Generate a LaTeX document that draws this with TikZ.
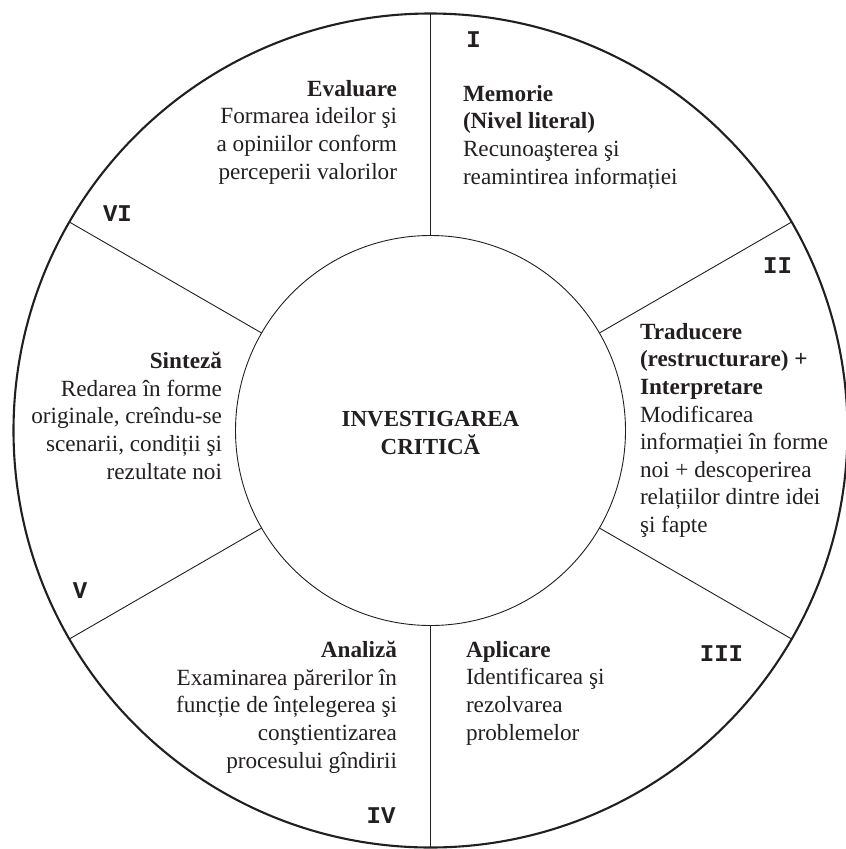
\documentclass[tikz,border=0pt]{standalone}
\usepackage{fontspec}
\setmainfont{Liberation Serif}
\newfontfamily\romfont{Liberation Mono}
\definecolor{ink}{RGB}{35,31,32}
\begin{document}
\begin{tikzpicture}[x=1pt,y=-1pt,
  every node/.style={inner sep=0pt, outer sep=0pt, text=ink},
  rimline/.style={draw=ink, line width=2.1pt},
  divider/.style={draw=ink, line width=0.9pt},
  desc/.style={font=\fontsize{23.2}{27.6}\selectfont},
  descL/.style={desc, align=left, anchor=base west},
  descR/.style={desc, align=right, anchor=base east},
  numeral/.style={font=\fontsize{24}{24}\romfont\bfseries, anchor=base},
  titletext/.style={font=\fontsize{23}{27.3}\selectfont\bfseries, align=center, anchor=base}
]
\useasboundingbox (0,0) rectangle (846,849);
\node[circle, minimum size=834pt, rimline] (rim) at (430.5,430.5) {};
\node[circle, minimum size=390pt, divider] (core) at (430.5,430.5) {};
\foreach \a in {90,30,-30,-90,210,150} \draw[divider] (core.\a) -- (rim.\a);

% base anchor = baseline of the last line
\node[titletext] (title) at (430.5,454) {INVESTIGAREA\\CRITICĂ};

\node[descL] (memorie) at (463,184) {\textbf{Memorie}\\\textbf{(Nivel literal)}\\Recunoaşterea şi\\reamintirea informației};
\node[descL] (traducere) at (640,532.5) {\textbf{Traducere}\\\textbf{(restructurare) +}\\\textbf{Interpretare}\\Modificarea\\informației în forme\\noi + descoperirea\\relațiilor dintre idei\\şi fapte};
\node[descL] (aplicare) at (466,740) {\textbf{Aplicare}\\Identificarea şi\\rezolvarea\\problemelor};
\node[descR] (analiza) at (397,768) {\textbf{Analiză}\\Examinarea părerilor în\\funcție de înțelegerea şi\\conştientizarea\\procesului gîndirii};
\node[descR] (sinteza) at (222,479) {\textbf{Sinteză}\\Redarea în forme\\originale, creîndu-se\\scenarii, condiții şi\\rezultate noi};
\node[descR] (evaluare) at (397,179) {\textbf{Evaluare}\\Formarea ideilor şi\\a opiniilor conform\\perceperii valorilor};

\node[numeral] (n1) at (473.5,47) {I};
\node[numeral] (n2) at (777.5,273) {II};
\node[numeral] (n3) at (721.5,661) {III};
\node[numeral] (n4) at (381,823) {IV};
\node[numeral] (n5) at (80,598) {V};
\node[numeral] (n6) at (117.5,221) {VI};
\end{tikzpicture}
\end{document}
